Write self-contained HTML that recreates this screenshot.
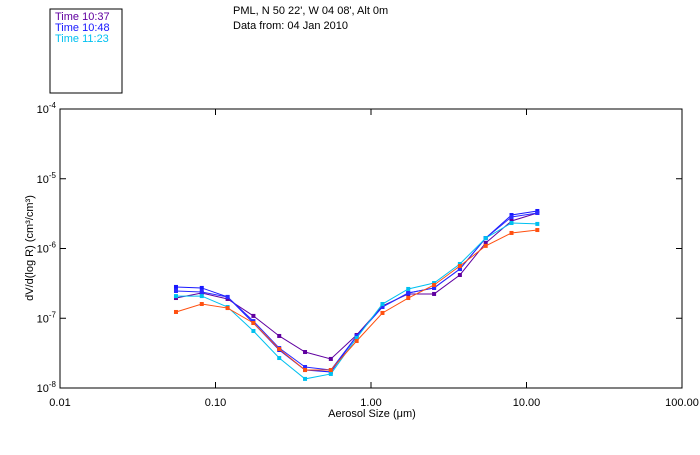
<!DOCTYPE html>
<html><head><meta charset="utf-8"><style>
body{margin:0;background:#fff;width:700px;height:450px;overflow:hidden}
svg text{font-family:"Liberation Sans",sans-serif;font-size:11px;fill:#000}
</style></head><body>
<svg id="chart" width="700" height="450">
<rect x="50" y="9" width="72" height="84" fill="none" stroke="#000"/>
<text x="55" y="20" style="fill:#6000a0">Time 10:37</text>
<text x="55" y="31" style="fill:#1818ff">Time 10:48</text>
<text x="55" y="42" style="fill:#00c0f0">Time 11:23</text>
<text x="233" y="14">PML, N 50 22', W 04 08', Alt 0m</text>
<text x="233" y="29">Data from: 04 Jan 2010</text>
<rect x="60" y="109" width="622" height="279" fill="none" stroke="#000"/>
<text x="372" y="417" text-anchor="middle">Aerosol Size (μm)</text>
<text transform="translate(33,248) rotate(-90)" text-anchor="middle">dV/d(log R) (cm³/cm³)</text>
<g id="axes"></g><g id="series"></g>
</svg>
<script>
const sizes=[0.0557,0.0816,0.1196,0.1753,0.2569,0.3765,0.5517,0.8085,1.185,1.736,2.545,3.729,5.465,8.009,11.74];
const purple=[1.95e-7,2.30e-7,1.89e-7,1.08e-7,5.57e-8,3.28e-8,2.61e-8,5.75e-8,1.50e-7,2.23e-7,2.23e-7,4.17e-7,1.20e-6,2.48e-6,3.23e-6];
const blue=[2.81e-7,2.72e-7,2.02e-7,8.55e-8,3.51e-8,1.81e-8,1.70e-8,5.57e-8,1.45e-7,2.30e-7,2.72e-7,5.08e-7,1.41e-6,3.02e-6,3.45e-6];
const blue2=[2.46e-7,2.38e-7,2.02e-7,9.1e-8,3.74e-8,2.00e-8,1.81e-8,5.57e-8,1.45e-7,2.30e-7,2.72e-7,5.08e-7,1.41e-6,2.83e-6,3.23e-6];
const cyan=[2.08e-7,2.08e-7,1.45e-7,6.57e-8,2.69e-8,1.35e-8,1.59e-8,5.21e-8,1.60e-7,2.63e-7,3.20e-7,6.0e-7,1.41e-6,2.32e-6,2.25e-6];
const orange=[1.23e-7,1.60e-7,1.40e-7,8.55e-8,3.62e-8,1.81e-8,1.81e-8,4.72e-8,1.19e-7,1.95e-7,3.00e-7,5.61e-7,1.09e-6,1.67e-6,1.84e-6];
const xTicks=["0.01","0.10","1.00","10.00","100.00"];
const yTickExp=["-8","-7","-6","-5","-4"];
const NS="http://www.w3.org/2000/svg";
const X0=60,X1=682,Y0=388,Y1=109;
function xs(v){return X0+(Math.log10(v)+2)/4*(X1-X0);}
function ys(v){return Y0-(Math.log10(v)+8)/4*(Y0-Y1);}
function mk(t,a,p){const e=document.createElementNS(NS,t);for(const k in a)e.setAttribute(k,a[k]);p.appendChild(e);return e;}
const ax=document.getElementById('axes');
xTicks.forEach((t,i)=>{const x=X0+i*(X1-X0)/4;
 const a=mk('line',{x1:x,x2:x,y1:Y0,y2:Y0-6,stroke:'#000'},ax);
 
 
 const b=mk('line',{x1:x,x2:x,y1:Y1,y2:Y1+6,stroke:'#000'},ax);
 
 
 const l=mk('text',{x:x,y:Y0+18,'text-anchor':'middle'},ax);l.textContent=t;
 
 
});
yTickExp.forEach((t,i)=>{const y=Y0-i*(Y0-Y1)/4;
 const a=mk('line',{x1:X0,x2:X0+6,y1:y,y2:y,stroke:'#000'},ax);
 
 
 const b=mk('line',{x1:X1,x2:X1-6,y1:y,y2:y,stroke:'#000'},ax);
 
 
 const l=mk('text',{x:X0-4,y:y+4,'text-anchor':'end'},ax);
 
 
 l.innerHTML='10<tspan dy="-5" font-size="8">'+t+'</tspan>';
});
const sg=document.getElementById('series');
[[purple,'#6000a0','series-1037'],[blue,'#1818ff','series-1048'],[blue2,'#2a2aff','series-1048b'],[cyan,'#00c0f0','series-1123'],[orange,'#ff5010','series-orange']].forEach(([d,c,n])=>{
 const g=mk('g',{},sg);
 
 
 const pl=mk('polyline',{points:d.map((v,i)=>xs(sizes[i])+','+ys(v)).join(' '),fill:'none',stroke:c,'stroke-width':1},g);
 
 
 d.forEach((v,i)=>{const r=mk('rect',{x:xs(sizes[i])-2,y:ys(v)-2,width:4,height:4,fill:c},g);
  
  });
});
</script>
</body></html>
